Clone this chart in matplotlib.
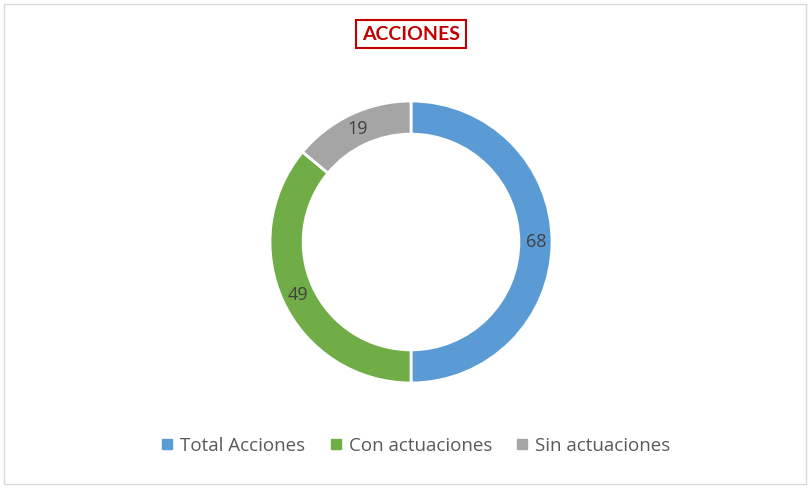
import matplotlib.pyplot as plt
import numpy as np
from matplotlib.lines import Line2D
from matplotlib.patches import Rectangle

labels = ["Total Acciones", "Con actuaciones", "Sin actuaciones"]
values = [68, 49, 19]
colors = ["#5B9BD5", "#70AD47", "#A5A5A5"]

W, H = 810, 488
fig = plt.figure(figsize=(W / 100, H / 100), dpi=100)
fig.patch.set_facecolor("white")

# chart frame
fig.patches.append(Rectangle((4 / W, 4 / H), 802 / W, 480 / H, transform=fig.transFigure,
                             fill=False, edgecolor="#D9D9D9", linewidth=1))

cx, cy, r = 411, 242, 141
ax = fig.add_axes([(cx - r) / W, (H - cy - r) / H, 2 * r / W, 2 * r / H])
wedges, _ = ax.pie(values, colors=colors, startangle=90, counterclock=False, radius=1,
                   wedgeprops=dict(width=0.235, edgecolor="white", linewidth=2))
ax.set_xlim(-1.0, 1.0)
ax.set_ylim(-1.0, 1.0)

# value labels in the middle of the ring
total = sum(values)
start = 90.0
for v in values:
    mid = np.deg2rad(start - 360 * v / total / 2)
    start -= 360 * v / total
    rr = 0.885
    ax.text(rr * np.cos(mid), rr * np.sin(mid), str(v), ha="center", va="center",
            fontsize=13, color="#404040", family="Open Sans")

fig.text(cx / W, 1 - 34 / H, "ACCIONES", ha="center", va="center", fontsize=14,
         weight="bold", color="#C00000", family="Lato",
         bbox=dict(boxstyle="square,pad=0.3", facecolor="white", edgecolor="#C00000", linewidth=1.5))

handles = [Line2D([], [], marker="s", linestyle="", markersize=7, color=c) for c in colors]
fig.legend(handles, labels, loc="center", bbox_to_anchor=(416 / W, 1 - 446 / H), ncol=3,
           frameon=False, handlelength=0.6, handletextpad=0.4, columnspacing=1.3,
           prop=dict(family="Open Sans", size=13.5), labelcolor="#595959")

fig.savefig("out.png", dpi=100, facecolor="white")
